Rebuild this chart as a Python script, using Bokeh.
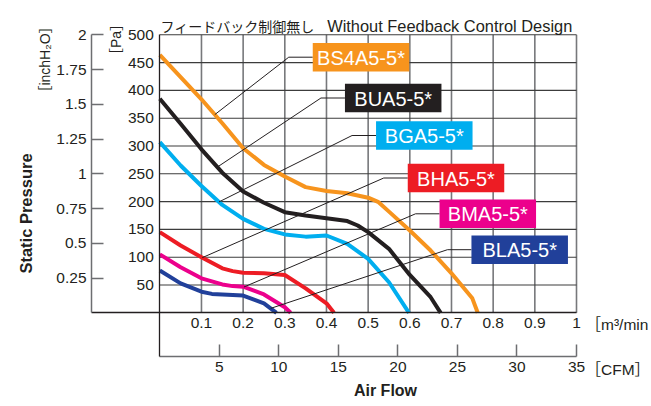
import numpy as np
from bokeh.plotting import figure
from bokeh.models import Range1d, LinearAxis, FixedTicker, Label
from bokeh.embed import file_html
from bokeh.resources import INLINE
from bokeh.core.properties import value

# ---------------- data (flow in m3/min, static pressure in Pa) ----------------
MODELS = ["BS4A5-5*", "BUA5-5*", "BGA5-5*", "BHA5-5*", "BMA5-5*", "BLA5-5*"]

Q_BS4A5 = [0, 0.05, 0.1, 0.15, 0.2, 0.25, 0.3, 0.35, 0.4, 0.45, 0.5, 0.525, 0.55, 0.6, 0.65, 0.7, 0.75, 0.763]
P_BS4A5 = [464, 424, 384, 341, 296, 266, 245, 226, 219, 215, 207, 199, 182, 148, 112, 71, 26, 0]

Q_BUA5 = [0, 0.05, 0.1, 0.15, 0.2, 0.25, 0.3, 0.35, 0.4, 0.45, 0.475, 0.5, 0.55, 0.6, 0.65, 0.674]
P_BUA5 = [385, 340, 294, 252, 218, 198, 181, 175, 170, 165, 157, 145, 115, 68, 28, 0]

Q_BGA5 = [0, 0.05, 0.1, 0.15, 0.2, 0.25, 0.3, 0.35, 0.4, 0.45, 0.5, 0.55, 0.598]
P_BGA5 = [307, 265, 228, 194, 169, 151, 141, 137, 139, 124, 97, 55, 0]

Q_BHA5 = [0, 0.05, 0.1, 0.15, 0.175, 0.2, 0.25, 0.3, 0.35, 0.4, 0.418]
P_BHA5 = [145, 121, 100, 80, 75, 72, 71, 68, 44, 17, 0]

Q_BMA5 = [0, 0.05, 0.1, 0.15, 0.175, 0.2, 0.25, 0.3, 0.314]
P_BMA5 = [105, 82, 62, 51, 48, 47, 33, 10, 0]

Q_BLA5 = [0, 0.05, 0.1, 0.125, 0.15, 0.2, 0.25, 0.28]
P_BLA5 = [76, 53, 38, 34, 33, 31, 17, 0]

# flow at which each model's leader line touches its curve
ANCHOR_Q = [0.132, 0.138, 0.142, 0.102, 0.202, 0.266]

PA_TICKS = [50, 100, 150, 200, 250, 300, 350, 400, 450, 500]
INCH_TICKS = [0.25, 0.5, 0.75, 1.0, 1.25, 1.5, 1.75, 2.0]
INCH_LABELS = ["0.25", "0.5", "0.75", "1", "1.25", "1.5", "1.75", "2"]
M3_TICKS = [0.1, 0.2, 0.3, 0.4, 0.5, 0.6, 0.7, 0.8, 0.9, 1.0]
M3_LABELS = ["0.1", "0.2", "0.3", "0.4", "0.5", "0.6", "0.7", "0.8", "0.9", "1"]
CFM_TICKS = [5, 10, 15, 20, 25, 30, 35]

TITLE_JA = "フィードバック制御無し"
TITLE_EN = "Without Feedback Control Design"

# ---------------- styles / layout ----------------
COLORS = ["#f7941d", "#231f20", "#00aeef", "#ed1c24", "#ec008c", "#21409a"]
TXT = "#231f20"
GRID_V = "#77787b"
GRID_H = "#3c3c3c"
FONT = "Liberation Sans, DejaVu Sans, Noto Sans CJK JP"

W, H, ORIGIN = 651, 406, 0
X0PX, X1PX = 159.3, 576.0      # page x of 0 and 1 m3/min
Y0PX, Y500PX = 312.3, 34.3     # page y of 0 and 500 Pa
KX = (X1PX - X0PX) / 1.0
KY = (Y0PX - Y500PX) / 500.0
CFM_SCALE = 35.0               # chart scale: 35 CFM at 1 m3/min
INCH_SCALE = 2.0 / 500.0       # chart scale: 2 inchH2O at 500 Pa


def dx(px):
    return (px - X0PX) / KX


def dy(py):
    return (Y0PX - py) / KY


xs0, xs1 = dx(ORIGIN), dx(ORIGIN + W)
ys0, ys1 = dy(ORIGIN + H), dy(ORIGIN)

p = figure(frame_width=W, frame_height=H, x_range=Range1d(xs0, xs1), y_range=Range1d(ys0, ys1),
           output_backend="svg", toolbar_location=None, min_border=0,
           x_axis_type=None, y_axis_type=None)
p.outline_line_color = None
p.background_fill_color = "white"
p.border_fill_color = "white"
p.extra_x_ranges = {"cfm": Range1d(xs0 * CFM_SCALE, xs1 * CFM_SCALE)}
p.extra_y_ranges = {"inch": Range1d(ys0 * INCH_SCALE, ys1 * INCH_SCALE)}

# ---------------- axes ----------------
common = dict(major_label_text_font=FONT, major_label_text_color=TXT,
              major_label_text_font_size="15.5px", minor_tick_in=0, minor_tick_out=0)

pa_axis = LinearAxis(ticker=FixedTicker(ticks=PA_TICKS), fixed_location=0,
                     bounds=(dy(355.5), 500), major_tick_in=0, major_tick_out=0,
                     major_label_standoff=6, axis_line_color=TXT, axis_line_width=1.3, **common)
p.add_layout(pa_axis, "left")

inch_axis = LinearAxis(y_range_name="inch", ticker=FixedTicker(ticks=INCH_TICKS),
                       major_label_overrides=dict(zip(INCH_TICKS, INCH_LABELS)),
                       fixed_location=dx(91), bounds=(0, 2), major_tick_in=12, major_tick_out=0,
                       major_tick_line_color="#6d6e71", major_tick_line_width=1.5,
                       major_label_standoff=5, axis_line_color="#6d6e71", axis_line_width=1.5, **common)
p.add_layout(inch_axis, "left")

m3_axis = LinearAxis(ticker=FixedTicker(ticks=M3_TICKS),
                     major_label_overrides=dict(zip(M3_TICKS, M3_LABELS)),
                     fixed_location=0, bounds=(dx(91), 1), major_tick_in=0, major_tick_out=0,
                     major_label_standoff=5, axis_line_color=TXT, axis_line_width=1.3, **common)
p.add_layout(m3_axis, "below")

cfm_axis = LinearAxis(x_range_name="cfm", ticker=FixedTicker(ticks=CFM_TICKS),
                      fixed_location=dy(355.5), bounds=(0, 35), major_tick_in=12, major_tick_out=0,
                      major_tick_line_color="#6d6e71", major_tick_line_width=1.5,
                      major_label_standoff=6, axis_line_color="#6d6e71", axis_line_width=1.5, **common)
p.add_layout(cfm_axis, "below")

# ---------------- grid ----------------
p.segment(x0=M3_TICKS, y0=[0] * len(M3_TICKS), x1=M3_TICKS, y1=[500] * len(M3_TICKS),
          line_color=GRID_V, line_width=1.6)
p.segment(x0=[0] * len(PA_TICKS), y0=PA_TICKS, x1=[1] * len(PA_TICKS), y1=PA_TICKS,
          line_color=GRID_H, line_width=1.1)

# ---------------- curves ----------------
QS = [Q_BS4A5, Q_BUA5, Q_BGA5, Q_BHA5, Q_BMA5, Q_BLA5]
PS = [P_BS4A5, P_BUA5, P_BGA5, P_BHA5, P_BMA5, P_BLA5]
for q, pr, c in zip(QS, PS, COLORS):
    p.line(q, pr, line_color=c, line_width=4, line_join="round")

# ---------------- labels with leader lines ----------------
BOX_CENTERS = [(360.5, 56.7), (392.7, 97.5), (423.8, 135.0), (455.5, 177.5), (487.3, 213.3), (519.2, 249.2)]
BOX_W, BOX_H, ELBOW = 96.5, 28.5, 24.0
for name, q, pr, c, aq, (cx, cy) in zip(MODELS, QS, PS, COLORS, ANCHOR_Q, BOX_CENTERS):
    left = cx - BOX_W / 2
    ap = float(np.interp(aq, q, pr))
    p.line([dx(left), dx(left - ELBOW), aq], [dy(cy), dy(cy), ap], line_color=TXT, line_width=1)
for name, c, (cx, cy) in zip(MODELS, COLORS, BOX_CENTERS):
    p.rect(x=dx(cx), y=dy(cy), width=BOX_W / KX, height=BOX_H / KY, fill_color=c, line_color=None)
    p.text(x=[dx(cx)], y=[dy(cy) - 0.5 / KY], text=[name], text_color="white", text_align="center",
           text_baseline="middle", text_font=value("Liberation Sans"), text_font_size="20px")

# ---------------- texts ----------------
def add_label(px, py, text, size, align="left", baseline="middle", angle=0, style="normal", font=FONT):
    p.add_layout(Label(x=dx(px), y=dy(py), text=text, text_font=font, text_font_size=size,
                       text_color=TXT, text_align=align, text_baseline=baseline,
                       angle=angle, angle_units="deg", text_font_style=style))


add_label(160, 25, TITLE_JA, "14px", baseline="alphabetic", font="Noto Sans CJK JP")
add_label(326.7, 25, TITLE_EN, "16.4px", baseline="alphabetic", font="Liberation Sans")
add_label(25.5, 213, "Static Pressure", "16.5px", align="center", angle=90, style="bold")
add_label(44, 59, "［inchH₂O］", "14px", align="center", angle=90)
add_label(115.5, 39, "［Pa］", "14px", align="center", angle=90)
add_label(585, 323.5, "［m³/min", "15.5px")
add_label(585, 369, "［CFM］", "15.5px")
add_label(385, 390, "Air Flow", "16px", align="center", style="bold")

open("out.html", "w").write(file_html(p, INLINE))
